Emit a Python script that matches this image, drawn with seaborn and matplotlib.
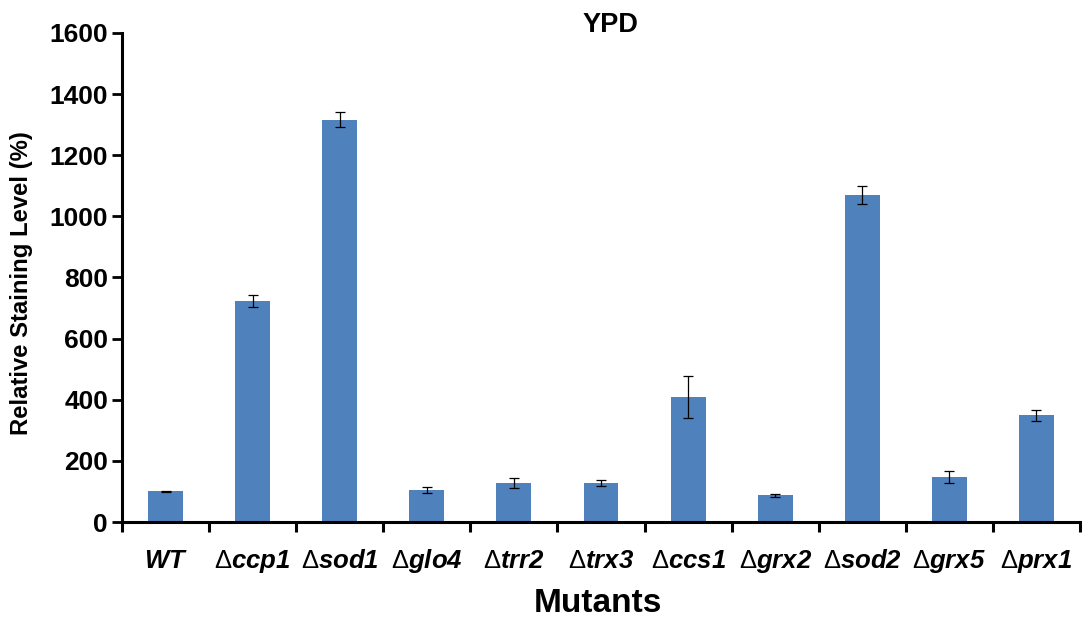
import matplotlib
matplotlib.use("Agg")
import matplotlib.pyplot as plt
import seaborn as sns
import pandas as pd
import numpy as np

# Relative staining level of deletion mutants grown in YPD
mutants = ["WT", "ccp1", "sod1", "glo4", "trr2", "trx3", "ccs1", "grx2", "sod2", "grx5", "prx1"]
staining = [100, 723, 1316, 105, 128, 128, 409, 88, 1070, 147, 350]
errors = [2, 20, 24, 11, 16, 10, 70, 5, 30, 21, 18]
yticks = [0, 200, 400, 600, 800, 1000, 1200, 1400, 1600]

sns.set_theme(style="white")
plt.rcParams["font.family"] = ["Liberation Sans", "DejaVu Sans"]
plt.rcParams["text.color"] = "black"
plt.rcParams["axes.labelcolor"] = "black"
plt.rcParams["xtick.color"] = "black"
plt.rcParams["ytick.color"] = "black"
plt.rcParams["mathtext.fontset"] = "custom"
plt.rcParams["mathtext.rm"] = "Liberation Sans"
plt.rcParams["mathtext.bfit"] = "Liberation Sans:italic:bold"
plt.rcParams["mathtext.it"] = "Liberation Sans:italic"
plt.rcParams["mathtext.bf"] = "Liberation Sans:bold"

df = pd.DataFrame({"mutant": mutants, "staining": staining})

W, H = 1082, 621
fig = plt.figure(figsize=(W / 100, H / 100), dpi=100)
ax = fig.add_axes([122 / W, 1 - 522 / H, (1080 - 122) / W, (522 - 33) / H])

sns.barplot(data=df, x="mutant", y="staining", color="#4F81BD", saturation=1,
            width=0.4, errorbar=None, linewidth=0, ax=ax)
xpos = np.arange(len(mutants))
ax.errorbar(xpos, staining, yerr=errors, fmt="none", ecolor="black",
            elinewidth=0.9, capsize=3.3, capthick=0.9)

ax.set_xlim(-0.5, len(mutants) - 0.5)
ax.set_ylim(0, 1600)
ax.set_yticks(yticks)
ax.set_yticklabels([str(v) for v in yticks], fontsize=19, fontweight="bold")

# category boundaries carry the tick marks, centres carry the labels
ax.set_xticks(np.arange(-0.5, len(mutants), 1.0))
ax.set_xticklabels([])
ax.set_xticks(xpos, minor=True)
labels = [r"$\mathbfit{WT}$" if m == "WT" else r"$\Delta\mathbfit{" + m + "}$" for m in mutants]
ax.set_xticklabels(labels, minor=True, fontsize=18.5)
for lab in ax.get_xticklabels(minor=True):
    lab.set_verticalalignment("baseline")
ax.tick_params(axis="x", which="major", direction="out", length=7, width=2.2,
               color="black", bottom=True)
ax.tick_params(axis="x", which="minor", length=0, pad=33, bottom=True)
ax.tick_params(axis="y", which="major", direction="out", length=7, width=2.0,
               color="black", left=True, pad=3)

for side in ["top", "right"]:
    ax.spines[side].set_visible(False)
for side in ["left", "bottom"]:
    ax.spines[side].set_color("black")
    ax.spines[side].set_linewidth(2.2)

ax.set_xlabel("")
ax.set_ylabel("")
fig.text(598 / W, 1 - 603 / H, "Mutants", fontsize=24, fontweight="bold",
         ha="center", va="center")
fig.text(22 / W, 1 - 283 / H, "Relative Staining Level (%)", fontsize=17.2,
         fontweight="bold", rotation=90, ha="center", va="center")
fig.text(610 / W, 1 - 25 / H, "YPD", fontsize=19.5, fontweight="bold",
         ha="center", va="center")

fig.savefig("out.png", dpi=100)
